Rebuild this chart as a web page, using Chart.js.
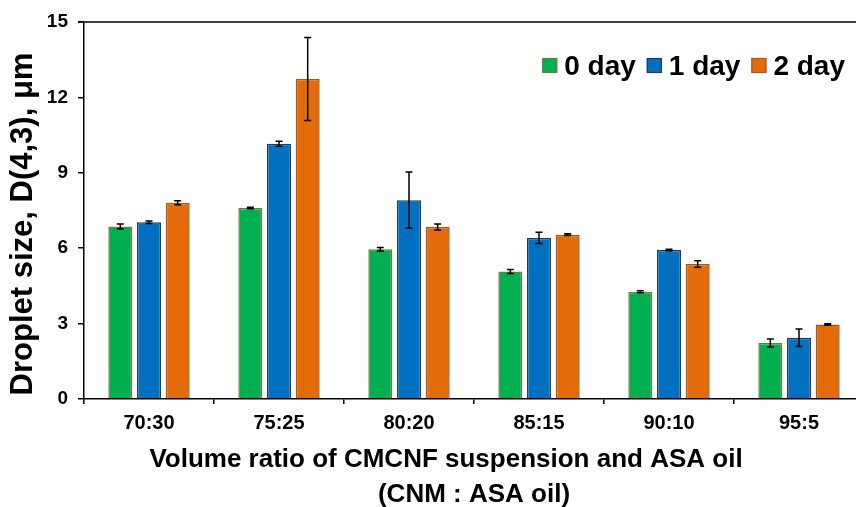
<!DOCTYPE html>
<html>
<head>
<meta charset="utf-8">
<script src="https://cdn.jsdelivr.net/npm/chart.js@4.4.1/dist/chart.umd.min.js"></script>
<style>
  html, body { margin: 0; padding: 0; background: #fff; overflow: hidden; }
  #wrap { width: 856px; height: 507px; overflow: hidden; }
</style>
</head>
<body>
<div id="wrap"><canvas id="chart" width="872" height="507"></canvas></div>
<script>
// values
const categories = ['70:30', '75:25', '80:20', '85:15', '90:10', '95:5'];
const seriesLabels = ['0 day', '1 day', '2 day'];
const day0 = [6.86, 7.60, 5.96, 5.07, 4.27, 2.23];
const day1 = [7.03, 10.16, 7.91, 6.41, 5.93, 2.44];
const day2 = [7.81, 12.73, 6.84, 6.54, 5.37, 2.96];
const err0 = [0.10, 0.03, 0.07, 0.08, 0.04, 0.16];
const err1 = [0.05, 0.10, 1.12, 0.22, 0.03, 0.35];
const err2 = [0.08, 1.65, 0.12, 0.03, 0.13, 0.03];
const yTicks = [0, 3, 6, 9, 12, 15];

const fillColors = ['#00B050', '#0070C0', '#E36C09'];
const edgeColors = ['#6E7A45', '#1F3A60', '#A8561A'];
const FONT = '"Liberation Sans", Arial, sans-serif';

const errors = [err0, err1, err2];

// error bars drawn from the bar elements and the y scale
const errorBars = {
  id: 'errorBars',
  afterDatasetsDraw(chart) {
    const ctx = chart.ctx;
    const y = chart.scales.y;
    ctx.save();
    ctx.strokeStyle = '#000';
    ctx.lineWidth = 1.5;
    chart.data.datasets.forEach((ds, i) => {
      const meta = chart.getDatasetMeta(i);
      meta.data.forEach((bar, j) => {
        const v = ds.data[j], e = errors[i][j];
        const top = y.getPixelForValue(v + e);
        const bot = y.getPixelForValue(v - e);
        ctx.beginPath();
        ctx.moveTo(bar.x, top); ctx.lineTo(bar.x, bot);
        ctx.moveTo(bar.x - 3.5, top); ctx.lineTo(bar.x + 3.5, top);
        ctx.moveTo(bar.x - 3.5, bot); ctx.lineTo(bar.x + 3.5, bot);
        ctx.stroke();
      });
    });
    ctx.restore();
  }
};

// frame line, axis titles and legend
const decorations = {
  id: 'decorations',
  afterDraw(chart) {
    const ctx = chart.ctx;
    const a = chart.chartArea;
    ctx.save();
    ctx.strokeStyle = '#000';
    ctx.lineWidth = 1.5;
    ctx.beginPath();
    ctx.moveTo(a.left - 6, a.top);
    ctx.lineTo(a.right, a.top);
    ctx.stroke();

    ctx.fillStyle = '#000';
    ctx.textAlign = 'center';
    ctx.textBaseline = 'alphabetic';
    ctx.font = 'bold 26px ' + FONT;
    const cx = (a.left + a.right) / 2;
    ctx.fillText('Volume ratio of CMCNF suspension and ASA oil', cx - 28, 467);
    ctx.fillText('(CNM : ASA oil)', cx, 502);

    ctx.save();
    ctx.translate(32, 224);
    ctx.rotate(-Math.PI / 2);
    ctx.font = 'bold 31px ' + FONT;
    ctx.fillText('Droplet size, D(4,3), \u03bcm', 0, 0);
    ctx.restore();

    // legend, right aligned
    ctx.font = 'bold 28px ' + FONT;
    ctx.textAlign = 'left';
    let x = 845;
    const items = chart.data.datasets.map((ds, i) => ({ text: ds.label, i }));
    for (let k = items.length - 1; k >= 0; k--) {
      const it = items[k];
      const w = ctx.measureText(it.text).width;
      const tx = x - w;
      ctx.fillStyle = '#000';
      ctx.fillText(it.text, tx, 75);
      const bx = tx - 7 - 15;
      ctx.fillStyle = fillColors[it.i];
      ctx.fillRect(bx, 58, 15, 15);
      ctx.strokeStyle = edgeColors[it.i];
      ctx.lineWidth = 1.2;
      ctx.strokeRect(bx + 0.5, 58.5, 14, 14);
      x = bx - 11;
    }
    ctx.restore();
  }
};

const datasets = [day0, day1, day2].map((d, i) => ({
  label: seriesLabels[i],
  data: d,
  backgroundColor: fillColors[i],
  borderColor: edgeColors[i],
  borderWidth: 1.5,
  categoryPercentage: 0.662,
  barPercentage: 0.836
}));

new Chart(document.getElementById('chart'), {
  type: 'bar',
  data: { labels: categories, datasets: datasets },
  options: {
    responsive: false,
    animation: false,
    layout: { padding: { left: 0, top: 22, right: 8, bottom: 0 } },
    plugins: {
      legend: { display: false },
      tooltip: { enabled: false }
    },
    scales: {
      x: {
        grid: { offset: true, drawOnChartArea: false, drawTicks: true, tickLength: 5, color: '#000', lineWidth: 1.5 },
        border: { color: '#000', width: 1.5 },
        ticks: { color: '#000', font: { family: FONT, size: 20, weight: 'bold' }, padding: 7, maxRotation: 0 },
        afterFit: s => { s.height = 108; }
      },
      y: {
        min: 0,
        max: 15,
        afterBuildTicks: s => { s.ticks = yTicks.map(v => ({ value: v })); },
        grid: { drawOnChartArea: false, drawTicks: true, tickLength: 6, color: '#000', lineWidth: 1.5 },
        border: { color: '#000', width: 1.5 },
        ticks: { color: '#000', font: { family: FONT, size: 19, weight: 'bold' }, padding: 10 },
        afterFit: s => { s.width = 84; }
      }
    }
  },
  plugins: [errorBars, decorations]
});
</script>
</body>
</html>
